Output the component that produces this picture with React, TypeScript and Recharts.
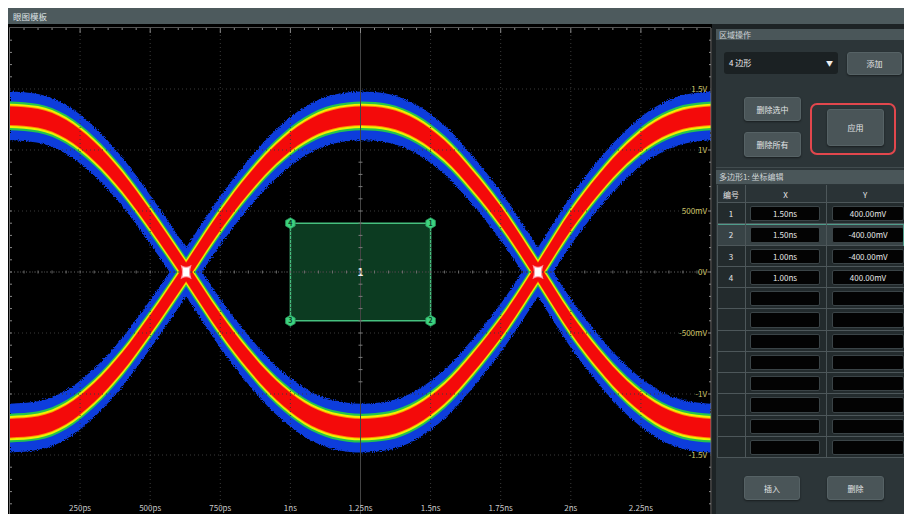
import React from "react"
import {
  ComposedChart,
  Area,
  XAxis,
  YAxis,
  ReferenceLine,
  ReferenceArea,
  Scatter,
} from "recharts"

const FONT = "'Noto Sans CJK SC', 'Noto Sans', sans-serif"

// eye diagram traces, time in ns, volts
const timeNs = [0, 0.1, 0.2, 0.3, 0.4, 0.5, 0.628, 0.75, 0.85, 0.95, 1.05, 1.15, 1.255, 1.35, 1.45, 1.55, 1.65, 1.75, 1.883, 2.0, 2.1, 2.2, 2.3, 2.4, 2.5]
const traceHigh = [1.28, 1.26, 1.17, 0.99, 0.74, 0.43, 0, -0.42, -0.72, -0.97, -1.15, -1.25, -1.28, -1.26, -1.17, -1.0, -0.75, -0.46, 0, 0.42, 0.72, 0.97, 1.15, 1.25, 1.28]
const traceLow = [-1.28, -1.26, -1.17, -0.99, -0.74, -0.43, 0, 0.42, 0.72, 0.97, 1.15, 1.25, 1.28, 1.26, 1.17, 1.0, 0.75, 0.46, 0, -0.42, -0.72, -0.97, -1.15, -1.25, -1.28]

// crossing points
const crossTimes = [0.628, 1.883]
const crossVolts = [0, 0]

// axis ticks
const xMajorTicks = [0.25, 0.5, 0.75, 1, 1.25, 1.5, 1.75, 2, 2.25]
const xTickLabels = ["250ps", "500ps", "750ps", "1ns", "1.25ns", "1.5ns", "1.75ns", "2ns", "2.25ns"]
const yMajorTicks = [1.5, 1, 0.5, 0, -0.5, -1, -1.5]
const yTickLabels = ["1.5V", "1V", "500mV", "0V", "-500mV", "-1V", "-1.5V"]
const xMinorTicks = Array.from({ length: 49 }, (_, i) => +((i + 1) * 0.05).toFixed(2))
const yMinorTicks = Array.from({ length: 39 }, (_, i) => +(-1.9 + i * 0.1).toFixed(1))
const xDomain = [0, 2.5]
const yDomain = [-2, 2]

// mask polygon (table values)
const maskIds = [1, 2, 3, 4]
const maskX = [1.5, 1.5, 1.0, 1.0]
const maskY = [0.4, -0.4, -0.4, 0.4]
const maskXText = ["1.50ns", "1.50ns", "1.00ns", "1.00ns"]
const maskYText = ["400.00mV", "-400.00mV", "-400.00mV", "400.00mV"]

const eyeData = timeNs.map((t, i) => ({ t, hi: traceHigh[i], lo: traceLow[i] }))
const crossData = crossTimes.map((t, i) => ({ t, v: crossVolts[i] }))
const maskPts = maskIds.map((id, i) => ({ id, t: maskX[i], v: maskY[i] }))
const maskCenter = [{ t: (Math.min(...maskX) + Math.max(...maskX)) / 2, v: 0 }]
const centerT = (xDomain[0] + xDomain[1]) / 2

// density colour layers (half thickness in volts), outer to inner
const bands = [
  { color: "#0c3cdc", half: 0.2, noisy: true },
  { color: "#24c44c", half: 0.118 },
  { color: "#eef200", half: 0.1 },
  { color: "#ff8c00", half: 0.084 },
  { color: "#f40a0a", half: 0.076 },
]

// chart geometry
const W = 704
const H = 492
const M = { top: 4, right: 1, left: 2, bottom: 0 }
const PLOT = { left: M.left, right: W - M.right, top: M.top, bottom: H - M.bottom }
const xMid = (PLOT.left + PLOT.right) / 2
const yMid = (PLOT.top + PLOT.bottom) / 2
const TICK = "#8a8a8a"

// x ticks: frame ticks on top, crosshair ticks on 0V, labels at the bottom
const XTick = (props: any) => {
  const { x, payload } = props
  const idx = xMajorTicks.indexOf(payload.value)
  const nearCross = crossTimes.some((c) => Math.abs(c - payload.value) < 0.12)
  return (
    <g>
      <line x1={x} x2={x} y1={PLOT.top} y2={PLOT.top + (idx >= 0 ? 5 : 2)} stroke={TICK} />
      {!nearCross && <line x1={x} x2={x} y1={yMid - 1.5} y2={yMid + 1.5} stroke="#6e6e6e" />}
      {idx >= 0 && (
        <text x={x} y={PLOT.bottom - 5} textAnchor="middle" fill="#c9c9c9" fontSize={8} fontFamily={FONT}>
          {xTickLabels[idx]}
        </text>
      )}
    </g>
  )
}

// y ticks: frame ticks left/right, crosshair ticks on the centre line, labels on the right
const YTick = (props: any) => {
  const { y, payload } = props
  const v = payload.value
  const idx = yMajorTicks.indexOf(v)
  const onBand = Math.abs(v) > 1.0 && Math.abs(v) < 1.6
  return (
    <g>
      {!onBand && <line x1={PLOT.left} x2={PLOT.left + 2} y1={y} y2={y} stroke={TICK} />}
      {!onBand && <line x1={PLOT.right - (idx >= 0 ? 3 : 2)} x2={PLOT.right} y1={y} y2={y} stroke={TICK} />}
      {Math.abs(v) < 1.0 && <line x1={xMid - 2} x2={xMid + 2} y1={y} y2={y} stroke="#7a7a7a" />}
      {idx >= 0 && (
        <text x={PLOT.right - 4} y={y + 3} textAnchor="end" fill="#cdc46a" fontSize={8} fontFamily={FONT}>
          {yTickLabels[idx]}
        </text>
      )}
    </g>
  )
}

const CrossMark = (props: any) => {
  const { cx, cy } = props
  const w = 4.5, h = 6
  return (
    <path
      d={`M${cx - w},${cy - h} Q${cx},${cy - h + 2.5} ${cx + w},${cy - h} Q${cx + w - 2},${cy} ${cx + w},${cy + h} Q${cx},${cy + h - 2.5} ${cx - w},${cy + h} Q${cx - w + 2},${cy} ${cx - w},${cy - h} Z`}
      fill="#ffffff"
      stroke="#ff9aa4"
      strokeWidth={1.2}
    />
  )
}

const Hexagon = (props: any) => {
  const { cx, cy, payload } = props
  const r = 5.5
  const pts = [0, 1, 2, 3, 4, 5]
    .map((k) => {
      const a = (Math.PI / 3) * k + Math.PI / 6
      return `${cx + r * Math.cos(a)},${cy + r * Math.sin(a)}`
    })
    .join(" ")
  return (
    <g>
      <polygon points={pts} fill="#3dd27f" stroke="#2a9c5e" strokeWidth={0.8} />
      <text x={cx} y={cy + 2.5} textAnchor="middle" fontSize={7} fontWeight="bold" fill="#0c3a22" fontFamily={FONT}>
        {payload.id}
      </text>
    </g>
  )
}

const CenterLabel = (props: any) => (
  <text x={props.cx} y={props.cy + 3.5} textAnchor="middle" fontSize={10} fontWeight="bold" fill="#f2f2f2" fontFamily={FONT}>
    1
  </text>
)

function EyeChart() {
  return (
    <ComposedChart width={W} height={H} data={eyeData} margin={M} style={{ background: "#000" }}>
      <defs>
        <filter id="speckle" filterUnits="userSpaceOnUse" x="0" y="0" width="720" height="520">
          <feTurbulence type="fractalNoise" baseFrequency="0.9" numOctaves="1" seed="3" result="noise" />
          <feDisplacementMap in="SourceGraphic" in2="noise" scale="5" xChannelSelector="R" yChannelSelector="G" />
        </filter>
      </defs>
      <XAxis
        dataKey="t"
        type="number"
        domain={xDomain}
        allowDataOverflow
        ticks={xMinorTicks}
        interval={0}
        mirror
        axisLine={false}
        tickLine={false}
        tick={XTick}
      />
      <YAxis
        dataKey="v"
        type="number"
        orientation="right"
        domain={yDomain}
        allowDataOverflow
        ticks={yMinorTicks}
        interval={0}
        mirror
        width={1}
        axisLine={{ stroke: "#777" }}
        tickLine={false}
        tick={YTick}
      />
      {xMajorTicks.map((t) => (
        <ReferenceLine key={`gx${t}`} x={t} stroke="#3a3a3a" strokeDasharray="1 3" />
      ))}
      {yMajorTicks.map((v) => (
        <ReferenceLine key={`gy${v}`} y={v} stroke="#3a3a3a" strokeDasharray="1 3" />
      ))}
      <ReferenceLine x={centerT} stroke="#444" />
      <ReferenceLine y={0} stroke="#484848" strokeDasharray="1 2" />
      {bands.flatMap((b, i) =>
        ["hi", "lo"].map((key) => (
          <Area
            key={`${key}-${i}`}
            type="monotone"
            dataKey={(d: any) => [d[key] - b.half, d[key] + b.half]}
            stroke="none"
            fill={b.color}
            fillOpacity={1}
            filter={b.noisy ? "url(#speckle)" : undefined}
            dot={false}
            activeDot={false}
            isAnimationActive={false}
          />
        ))
      )}
      <Scatter data={crossData} shape={CrossMark} isAnimationActive={false} />
      <ReferenceArea
        x1={Math.min(...maskX)}
        x2={Math.max(...maskX)}
        y1={Math.min(...maskY)}
        y2={Math.max(...maskY)}
        fill="#1f9a58"
        fillOpacity={0.38}
        stroke="#46c07f"
        strokeWidth={1.5}
        strokeOpacity={1}
      />
      <Scatter data={maskCenter} shape={CenterLabel} isAnimationActive={false} />
      <Scatter data={maskPts} shape={Hexagon} isAnimationActive={false} />
    </ComposedChart>
  )
}

// right panel, absolute page coords
const PX = 716
const PY = 29
const box = (x1: number, y1: number, x2: number, y2: number): React.CSSProperties => ({
  position: "absolute",
  left: x1 - PX,
  top: y1 - PY,
  width: x2 - x1,
  height: y2 - y1,
  boxSizing: "border-box",
})

function Btn({ x1, y1, x2, y2, label }: { x1: number; y1: number; x2: number; y2: number; label: string }) {
  return (
    <div
      style={{
        ...box(x1, y1, x2, y2),
        background: "#4a5558",
        border: "1px solid #566265",
        borderRadius: 3,
        color: "#e2e5e6",
        fontSize: 8,
        display: "flex",
        alignItems: "center",
        justifyContent: "center",
        boxShadow: "0 1px 2px rgba(0,0,0,0.45)",
      }}
    >
      {label}
    </div>
  )
}

const ROW_TOP = 203
const ROW_H = 21.25
const ROWS = 12
const COL = [717, 745, 826, 904]

function Panel() {
  const cellText: React.CSSProperties = { color: "#e6e6e6", fontSize: 8, display: "flex", alignItems: "center", justifyContent: "center" }
  return (
    <div style={{ position: "absolute", left: PX - 8, top: PY - 8, width: 904 - PX, height: 514 - PY, background: "#2c3538", fontFamily: FONT }}>
      <div style={{ ...box(716, 29, 904, 40), background: "#4a5659", color: "#cfd4d6", fontSize: 8, paddingLeft: 3, lineHeight: "11px" }}>区域操作</div>
      <div style={{ ...box(724, 52, 838, 74), background: "#1b2123", borderRadius: 3, color: "#eee", fontSize: 8, paddingLeft: 5, lineHeight: "22px" }}>
        4 边形
        <span style={{ position: "absolute", right: 5, top: 0, fontSize: 7 }}>▼</span>
      </div>
      <Btn x1={847} y1={52} x2={902} y2={75} label="添加" />
      <Btn x1={744} y1={97} x2={801} y2={121} label="删除选中" />
      <Btn x1={744} y1={132} x2={801} y2={157} label="删除所有" />
      <div style={{ ...box(810, 103, 896, 155), border: "2.5px solid #e2474d", borderRadius: 7 }} />
      <Btn x1={827} y1={109} x2={884} y2={146} label="应用" />
      <div style={{ ...box(716, 167, 904, 168), background: "#424c4f" }} />
      <div style={{ ...box(716, 170, 904, 184), background: "#4a5659", color: "#cfd4d6", fontSize: 8, paddingLeft: 3, lineHeight: "14px" }}>多边形1: 坐标编辑</div>

      {/* table header */}
      <div style={{ ...box(COL[0], 185, COL[3], ROW_TOP), background: "#2a3336", borderBottom: "1px solid #4d575a" }} />
      {["编号", "X", "Y"].map((h, c) => (
        <div key={h} style={{ ...box(COL[c], 185, COL[c + 1], ROW_TOP), ...cellText }}>{h}</div>
      ))}

      {/* table rows */}
      {Array.from({ length: ROWS }, (_, r) => {
        const y1 = ROW_TOP + r * ROW_H
        const y2 = y1 + ROW_H
        const sel = r === 1
        return (
          <React.Fragment key={r}>
            <div style={{ ...box(COL[0], y1, COL[3], y2), background: sel ? "#384346" : "#232b2d", borderBottom: "1px solid #4d575a" }} />
            <div style={{ ...box(750, y1 + 3, 820, y2 - 3), background: "#030303", border: "1px solid #3b4447", borderRadius: 2 }} />
            <div style={{ ...box(832, y1 + 3, 904, y2 - 3), background: "#030303", border: "1px solid #3b4447", borderRadius: 2 }} />
            {r < maskIds.length && (
              <>
                <div style={{ ...box(COL[0], y1, COL[1], y2), ...cellText }}>{maskIds[r]}</div>
                <div style={{ ...box(750, y1, 820, y2), ...cellText }}>{maskXText[r]}</div>
                <div style={{ ...box(832, y1, 904, y2), ...cellText }}>{maskYText[r]}</div>
              </>
            )}
            {sel && <div style={{ ...box(COL[0], y1, COL[3], y2 + 1), border: "1.5px solid #4f9c8a" }} />}
          </React.Fragment>
        )
      })}
      {COL.slice(0, 3).map((x) => (
        <div key={x} style={{ ...box(x, 185, x + 1, ROW_TOP + ROWS * ROW_H), background: "#4d575a" }} />
      ))}

      <Btn x1={744} y1={476} x2={800} y2={500} label="插入" />
      <Btn x1={827} y1={476} x2={884} y2={500} label="删除" />
    </div>
  )
}

export default function App() {
  return (
    <div style={{ position: "absolute", left: 8, top: 8, width: 896, height: 506, overflow: "hidden", background: "#1d2325", fontFamily: FONT }}>
      <div style={{ position: "absolute", left: 0, top: 0, width: 896, height: 16, background: "#4d5a5d", color: "#dde2e4", fontSize: 8.5, paddingLeft: 5, lineHeight: "16px", boxSizing: "border-box" }}>
        眼图模板
      </div>
      <div style={{ position: "absolute", left: 0, top: 16 }}>
        <EyeChart />
      </div>
      {/* plot frame (left and top edges) */}
      <div style={{ position: "absolute", left: PLOT.left - 1, top: 16 + PLOT.top - 1, width: 1, height: PLOT.bottom - PLOT.top + 1, background: "#6f6f6f" }} />
      <div style={{ position: "absolute", left: PLOT.left - 1, top: 16 + PLOT.top - 1, width: PLOT.right - PLOT.left + 1, height: 1, background: "#555" }} />
      <Panel />
    </div>
  )
}
